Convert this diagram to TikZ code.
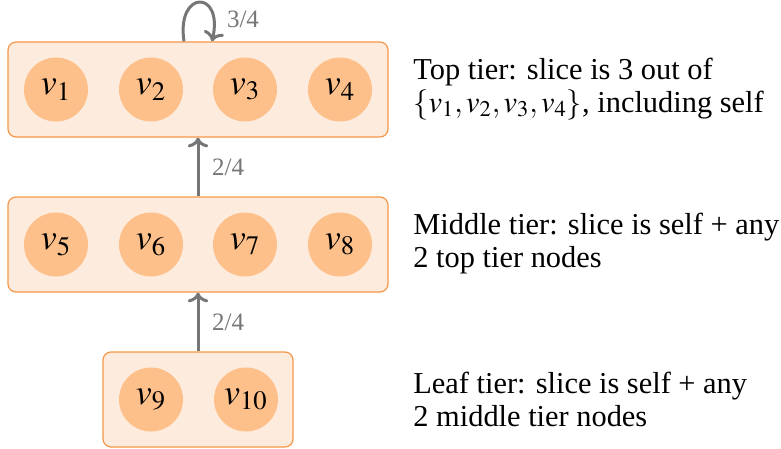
\documentclass[tikz,border=0pt]{standalone}
\usepackage{mathptmx}
\usepackage[no-math]{fontspec}
\setmainfont{Liberation Serif}
\usepackage{tikz}
\usetikzlibrary{arrows.meta, positioning, calc}
\usepackage{xcolor}
\definecolor{tierfill}{RGB}{253,236,222}
\definecolor{tierline}{RGB}{246,150,72}
\definecolor{vfill}{RGB}{253,192,138}
\definecolor{linkgray}{RGB}{118,118,118}

\begin{document}
\begin{tikzpicture}[x=0.5pt, y=-0.5pt,
  tier/.style={draw=tierline, fill=tierfill, rounded corners=4pt, line width=0.6pt, minimum height=47.5pt, inner sep=0},
  vnode/.style={circle, fill=vfill, minimum size=32pt, inner sep=0, font=\fontsize{18pt}{20pt}\selectfont},
  link/.style={->, linkgray, line width=1.5pt},
  lbl/.style={linkgray, font=\fontsize{12.5pt}{14pt}\selectfont},
  note/.style={anchor=west, align=left, inner sep=0, font=\fontsize{15.2pt}{16.5pt}\selectfont}]
  \useasboundingbox (0,0) rectangle (781,449);
  \node[tier, minimum width=190pt] (top) at (198,89.5) {};
  \node[tier, minimum width=190pt] (mid) at (198,244.5) {};
  \node[tier, minimum width=95pt] (leaf) at (198,399.5) {};
  \foreach \i/\x in {1/56,2/151,3/245,4/340}
    \node[vnode] (v\i) at (\x,89.5) {$v_{\i}$};
  \foreach \i/\x in {5/56,6/151,7/245,8/340}
    \node[vnode] (v\i) at (\x,244.5) {$v_{\i}$};
  \node[vnode] (v9) at (151,399.5) {$v_{9}$};
  \node[vnode] (v10) at (246,399.5) {$v_{10}$};
  \coordinate (la) at ([xshift=-7pt]top.north);
  \coordinate (lb) at ([xshift=7pt]top.north);
  \draw[link] (la) .. controls +(-4pt,26pt) and +(6pt,26pt) .. (lb);
  \node[lbl] (l34) at (243,19) {3/4};
  \draw[link] (mid.north) -- (top.south) node[midway, right, lbl, xshift=3pt] (l24a) {2/4};
  \draw[link] (leaf.north) -- (mid.south) node[midway, right, lbl, xshift=3pt] (l24b) {2/4};
  \node[note] (ttop) at (413,89) {Top tier: slice is 3 out of\\$\{v_1,v_2,v_3,v_4\}$, including self};
  \node[note] (tmid) at (413,244) {Middle tier: slice is self + any\\2 top tier nodes};
  \node[note] (tleaf) at (413,399) {Leaf tier: slice is self + any\\2 middle tier nodes};
\end{tikzpicture}
\end{document}
